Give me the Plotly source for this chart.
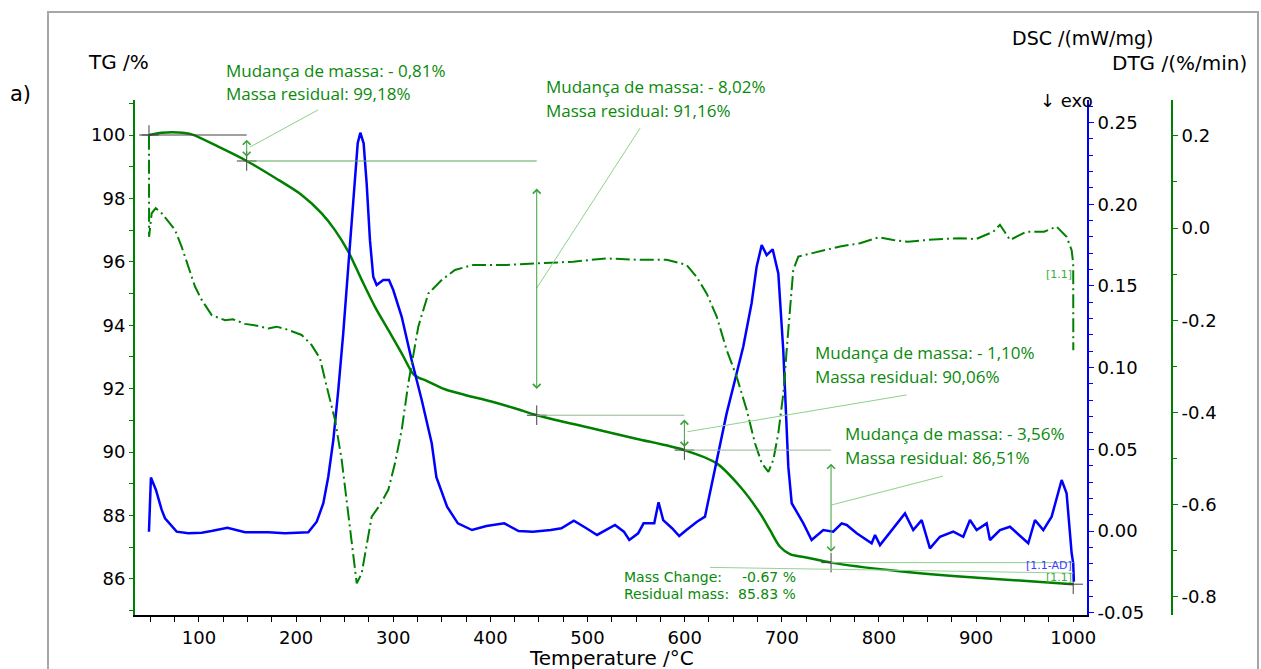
import plotly.graph_objects as go

# ---------------- TG (mass, %) ----------------
T_tg = [48.5, 61.6, 78.7, 92.5, 119.9, 149.1, 178.2, 205.7, 226.3, 240.0,
        253.7, 267.5, 281.2, 294.9, 308.7, 318.9, 322.0, 327.0, 332.7, 353.2,
        373.8, 400.0, 425.0, 447.7, 500.0, 550.0, 599.7, 633.0, 657.0, 677.5,
        687.8, 698.1, 708.4, 729.0, 750.7, 814.7, 883.4, 952.0, 1000.0]
TG = [100.0, 100.07, 100.08, 100.02, 99.63, 99.18, 98.65, 98.11, 97.53, 97.0,
      96.32, 95.43, 94.58, 93.85, 93.11, 92.53, 92.42, 92.33, 92.27, 91.98,
      91.8, 91.6, 91.38, 91.16, 90.78, 90.42, 90.06, 89.64, 88.91, 88.07,
      87.54, 87.01, 86.78, 86.65, 86.51, 86.26, 86.07, 85.93, 85.83]

# ---------------- DSC (mW/mg) ----------------
T_dsc = [48.5, 50.5, 55.7, 61.6, 65.0, 77.0, 89.0, 102.8, 112.8, 129.3,
         147.4, 171.3, 188.5, 212.5, 221.2, 228.0, 233.1, 238.3, 243.4, 248.5,
         253.7, 258.8, 263.4, 266.1, 269.5, 272.6, 276.0, 279.4, 282.9, 289.7,
         295.6, 300.0, 308.7, 318.9, 329.3, 339.6, 344.4, 355.4, 366.5, 381.1,
         395.9, 414.3, 429.0, 443.7, 462.1, 473.1, 485.9, 498.8, 509.8, 528.3,
         537.4, 543.0, 552.1, 557.7, 568.7, 573.1, 577.9, 587.0, 594.4, 601.8,
         612.7, 620.9, 629.4, 643.2, 651.8, 660.3, 668.9, 674.1, 679.3, 684.4,
         690.6, 696.4, 701.5, 706.7, 710.2, 718.7, 722.2, 730.7, 742.7, 753.0,
         761.6, 766.8, 777.1, 792.5, 796.0, 801.1, 813.1, 818.3, 826.8, 835.3,
         844.0, 852.5, 862.8, 876.5, 886.8, 893.7, 900.6, 910.9, 914.3, 924.6,
         934.9, 953.7, 960.6, 969.2, 977.8, 988.1, 993.2, 998.4, 1000.0, 1000.7]
DSC = [-0.0004, 0.0327, 0.0251, 0.0129, 0.0078, -0.0004, -0.0014, -0.001, 0.0, 0.002,
       -0.0008, -0.0008, -0.0014, -0.0008, 0.0057, 0.017, 0.0332, 0.0557, 0.0863, 0.121,
       0.1618, 0.2026, 0.2373, 0.2438, 0.2373, 0.2128, 0.178, 0.1556, 0.1506, 0.1536,
       0.1536, 0.1475, 0.1311, 0.1047, 0.0802, 0.0537, 0.0330, 0.0149, 0.0047, 0.0006,
       0.0031, 0.0047, 0.0, -0.0004, 0.0006, 0.0017, 0.0063, 0.0017, -0.0024, 0.0037,
       -0.0004, -0.0055, -0.0014, 0.0047, 0.0047, 0.0176, 0.0067, 0.0017, -0.0031, 0.0006,
       0.0057, 0.0088, 0.0332, 0.072, 0.0924, 0.1128, 0.1394, 0.1618, 0.175, 0.1689,
       0.1724, 0.1577, 0.1108, 0.0394, 0.017, 0.0088, 0.0047, -0.0055, 0.0006, -0.0004,
       0.0047, 0.0037, -0.0014, -0.0075, -0.0024, -0.0086, 0.0006, 0.0047, 0.0108, 0.0006,
       0.0067, -0.0106, -0.0035, -0.0004, -0.0035, 0.0067, 0.0006, 0.0047, -0.0055, 0.0006,
       0.0026, -0.0075, 0.0067, 0.0006, 0.0088, 0.0312, 0.0231, -0.0136, -0.0198, -0.031]

# ---------------- DTG (%/min) ----------------
T_dtg = [48.5, 48.6, 51.3, 55.4, 61.6, 68.4, 75.3, 82.2, 89.0, 95.9,
         102.8, 113.1, 126.8, 135.0, 147.4, 160.0, 171.3, 180.0, 191.9, 205.7,
         216.0, 224.6, 231.5, 240.0, 246.9, 253.7, 258.9, 262.4, 267.5, 272.6,
         277.8, 286.3, 294.9, 301.8, 308.7, 315.5, 325.8, 336.1, 349.8, 363.5,
         382.4, 416.7, 451.0, 485.3, 519.7, 554.0, 581.5, 602.0, 612.3, 622.6,
         633.0, 643.3, 653.6, 663.9, 672.4, 679.3, 686.2, 691.3, 696.4, 701.6,
         705.0, 708.4, 711.8, 717.0, 746.2, 760.0, 780.5, 800.0, 814.8, 830.0,
         849.1, 883.4, 900.0, 917.7, 924.6, 934.9, 952.0, 970.0, 982.9, 993.2,
         998.4, 1000.0, 1000.1]
DTG = [0.20, -0.019, 0.032, 0.043, 0.032, 0.014, -0.004, -0.041, -0.084, -0.127,
       -0.156, -0.189, -0.200, -0.198, -0.208, -0.212, -0.218, -0.214, -0.221, -0.232,
       -0.254, -0.283, -0.344, -0.416, -0.503, -0.626, -0.720, -0.771, -0.749, -0.684,
       -0.626, -0.601, -0.568, -0.510, -0.438, -0.337, -0.214, -0.142, -0.113, -0.091,
       -0.080, -0.080, -0.077, -0.073, -0.066, -0.069, -0.069, -0.080, -0.106, -0.142,
       -0.192, -0.265, -0.323, -0.395, -0.467, -0.510, -0.529, -0.503, -0.445, -0.359,
       -0.265, -0.171, -0.091, -0.062, -0.048, -0.040, -0.033, -0.020, -0.026, -0.030,
       -0.026, -0.022, -0.024, -0.008, 0.007, -0.026, -0.008, -0.008, 0.003, -0.019,
       -0.048, -0.077, -0.265]

assert len(T_tg) == len(TG) and len(T_dsc) == len(DSC) and len(T_dtg) == len(DTG)

# ---------------- mass-loss evaluation ----------------
step_T = [48.5, 149.1, 447.7, 599.7, 750.7, 1000.0]
step_mass = [100.0, 99.18, 91.16, 90.06, 86.51, 85.83]
mass_change = [-0.81, -8.02, -1.10, -3.56, -0.67]
# extent of the double arrows drawn between consecutive steps
arrow_top = [99.90, 98.36, 91.07, 89.68]
arrow_bottom = [99.31, 91.99, 90.16, 86.85]

# axis ticks
x_ticks = [100, 200, 300, 400, 500, 600, 700, 800, 900, 1000]
tg_ticks = [86, 88, 90, 92, 94, 96, 98, 100]
dsc_ticks = [-0.05, 0.0, 0.05, 0.10, 0.15, 0.20, 0.25]
dtg_ticks = [-0.8, -0.6, -0.4, -0.2, 0.0, 0.2]

GREEN = "rgb(0,128,0)"
TXT_GREEN = "rgb(10,138,10)"
BLUE = "rgb(0,0,255)"
AXFONT = dict(family="DejaVu Sans", size=18, color="black")
TITLEFONT = dict(family="DejaVu Sans", size=20, color="black")

W, H = 1261, 669
L, R, T, B = 135, 1172, 100, 615   # paper box in page pixels
X_RIGHT = 1087                      # right end of the temperature axis


def xp(px):
    return (px - L) / (R - L)


def yp(py):
    return (B - py) / (B - T)


def fmt(v, nd):
    return f"{v:.{nd}f}"


def pt(v):
    return fmt(v, 2).replace(".", ",")


fig = go.Figure()

fig.add_trace(go.Scatter(x=T_tg, y=TG, mode="lines", yaxis="y",
                         line=dict(color=GREEN, width=2.5, shape="spline", smoothing=0.8),
                         hoverinfo="skip"))
fig.add_trace(go.Scatter(x=T_dsc, y=DSC, mode="lines", yaxis="y2",
                         line=dict(color=BLUE, width=2.5), hoverinfo="skip"))
fig.add_trace(go.Scatter(x=T_dtg, y=DTG, mode="lines", yaxis="y3",
                         line=dict(color=GREEN, width=2, dash="14px,4px,2px,4px"),
                         hoverinfo="skip"))
fig.add_trace(go.Scatter(x=step_T, y=step_mass, mode="markers", yaxis="y",
                         marker=dict(symbol="cross-thin", size=14,
                                     line=dict(color="#404040", width=1)),
                         hoverinfo="skip"))

shapes = []
# frame around the figure
shapes.append(dict(type="rect", xref="paper", yref="paper",
                   x0=xp(48), x1=xp(1258), y0=yp(690), y1=yp(12),
                   line=dict(color="rgb(166,166,166)", width=2)))

# horizontal reference levels of each step
level_colors = ["#404040", "rgb(90,170,90)", "rgb(150,180,150)",
                "rgb(150,180,150)", "rgb(140,205,140)"]
shapes.append(dict(type="line", xref="x", yref="y", x0=41, x1=step_T[1],
                   y0=step_mass[0], y1=step_mass[0],
                   line=dict(color=level_colors[0], width=1)))
for i in range(1, 5):
    shapes.append(dict(type="line", xref="x", yref="y",
                       x0=step_T[i], x1=step_T[i + 1],
                       y0=step_mass[i], y1=step_mass[i],
                       line=dict(color=level_colors[i], width=1)))
# last-step baseline
shapes.append(dict(type="line", xref="x", yref="y", x0=626, x1=1000,
                   y0=86.36, y1=86.18, line=dict(color="rgb(150,210,150)", width=1)))

# leader lines from the arrows to the labels
leaders = [((152.5, 99.62), (222.5, 100.79)),
           ((447.7, 95.17), (554.0, 100.21)),
           ((602.9, 90.64), (828.5, 91.80)),
           ((751.3, 88.33), (865.9, 89.24))]
for (x0, y0), (x1, y1) in leaders:
    shapes.append(dict(type="line", xref="x", yref="y", x0=x0, y0=y0, x1=x1, y1=y1,
                       line=dict(color="rgb(140,210,140)", width=1)))

annotations = []
# double arrows between consecutive evaluation steps
for i in range(4):
    annotations.append(dict(x=step_T[i + 1], y=arrow_bottom[i],
                            ax=step_T[i + 1], ay=arrow_top[i],
                            xref="x", yref="y", axref="x", ayref="y",
                            text="", showarrow=True, arrowhead=4, startarrowhead=4,
                            arrowside="end+start", arrowsize=1.5, startarrowsize=1.5,
                            arrowwidth=1, arrowcolor="rgb(60,160,60)"))

label_pos = [(224, 70), (544, 87), (813, 352), (843, 433)]
for i, (lx, ly) in enumerate(label_pos):
    annotations.append(dict(xref="paper", yref="paper", x=xp(lx), y=yp(ly),
                            xanchor="left", yanchor="middle", showarrow=False,
                            text=f"Mudança de massa: - {pt(abs(mass_change[i]))}%",
                            font=dict(family="Open Sans", size=17, color=TXT_GREEN)))
    annotations.append(dict(xref="paper", yref="paper", x=xp(lx), y=yp(ly + 24),
                            xanchor="left", yanchor="middle", showarrow=False,
                            text=f"Massa residual: {pt(step_mass[i + 1])}%",
                            font=dict(family="Open Sans", size=17, color=TXT_GREEN)))

small = dict(family="DejaVu Sans", size=14, color=TXT_GREEN)
annotations += [
    dict(xref="paper", yref="paper", x=xp(622), y=yp(577), xanchor="left", yanchor="middle",
         showarrow=False, text="Mass Change:", font=small),
    dict(xref="paper", yref="paper", x=xp(798), y=yp(577), xanchor="right", yanchor="middle",
         showarrow=False, text=f"{fmt(mass_change[4], 2)} %", font=small),
    dict(xref="paper", yref="paper", x=xp(622), y=yp(594), xanchor="left", yanchor="middle",
         showarrow=False, text="Residual mass:", font=small),
    dict(xref="paper", yref="paper", x=xp(798), y=yp(594), xanchor="right", yanchor="middle",
         showarrow=False, text=f"{fmt(step_mass[5], 2)} %", font=small),
    dict(xref="paper", yref="paper", x=xp(1074), y=yp(274), xanchor="right", yanchor="middle",
         showarrow=False, text="[1.1]",
         font=dict(family="DejaVu Sans", size=11, color="rgb(60,170,60)")),
    dict(xref="paper", yref="paper", x=xp(1074), y=yp(565), xanchor="right", yanchor="middle",
         showarrow=False, text="[1.1-AD]",
         font=dict(family="DejaVu Sans", size=11, color="rgb(60,60,255)")),
    dict(xref="paper", yref="paper", x=xp(1074), y=yp(577), xanchor="right", yanchor="middle",
         showarrow=False, text="[1.1]",
         font=dict(family="DejaVu Sans", size=11, color="rgb(60,170,60)")),
    # axis titles and panel letter
    dict(xref="paper", yref="paper", x=xp(86), y=yp(62), xanchor="left", yanchor="middle",
         showarrow=False, text="TG /%", font=TITLEFONT),
    dict(xref="paper", yref="paper", x=xp(1010), y=yp(38), xanchor="left", yanchor="middle",
         showarrow=False, text="DSC /(mW/mg)", font=dict(family="DejaVu Sans", size=19, color="black")),
    dict(xref="paper", yref="paper", x=xp(1110), y=yp(63), xanchor="left", yanchor="middle",
         showarrow=False, text="DTG /(%/min)", font=TITLEFONT),
    dict(xref="paper", yref="paper", x=xp(1038), y=yp(100), xanchor="left", yanchor="middle",
         showarrow=False, text="↓ exo", font=AXFONT),
    dict(xref="paper", yref="paper", x=xp(8), y=yp(94), xanchor="left", yanchor="middle",
         showarrow=False, text="a)", font=dict(family="DejaVu Sans", size=21, color="black")),
    dict(xref="paper", yref="paper", x=xp(611), y=yp(658), xanchor="center", yanchor="middle",
         showarrow=False, text="Temperature /°C", font=TITLEFONT),
]

fig.update_layout(
    template="none",
    width=W, height=H, autosize=False,
    margin=dict(l=L, r=W - R, t=T, b=H - B, pad=0),
    paper_bgcolor="white", plot_bgcolor="white",
    showlegend=False,
    font=dict(family="DejaVu Sans", size=18, color="black"),
    shapes=shapes, annotations=annotations,
    xaxis=dict(domain=[0, xp(X_RIGHT)], range=[34.12, 1014.2], automargin=False,
               showline=True, linecolor="black", linewidth=2, mirror=False,
               showgrid=False, zeroline=False,
               tickmode="array", tickvals=x_ticks, ticktext=[str(v) for v in x_ticks],
               ticks="outside", ticklen=5, tickwidth=1, tickcolor="black", tickfont=AXFONT,
               minor=dict(tickmode="linear", tick0=0, dtick=25, ticks="outside",
                          ticklen=5, tickwidth=1, tickcolor="black")),
    yaxis=dict(range=[84.858, 101.104], automargin=False,
               showline=True, linecolor=GREEN, linewidth=2,
               showgrid=False, zeroline=False,
               tickmode="array", tickvals=tg_ticks, ticktext=[str(v) for v in tg_ticks],
               ticks="outside", ticklen=4, tickwidth=1, tickcolor=GREEN, tickfont=AXFONT,
               minor=dict(tickmode="linear", tick0=0, dtick=1, ticks="outside",
                          ticklen=4, tickwidth=1, tickcolor=GREEN)),
    yaxis2=dict(overlaying="y", anchor="x", side="right", range=[-0.0514, 0.2638],
                automargin=False, showline=True, linecolor=BLUE, linewidth=2,
                showgrid=False, zeroline=False,
                tickmode="array", tickvals=dsc_ticks,
                ticktext=[fmt(v, 2).replace("-0.00", "0.00") for v in dsc_ticks],
                ticks="outside", ticklen=5, tickwidth=1, tickcolor=BLUE, tickfont=AXFONT,
                minor=dict(tickmode="linear", tick0=0, dtick=0.01, ticks="outside",
                           ticklen=4, tickwidth=1, tickcolor=BLUE)),
    yaxis3=dict(overlaying="y", anchor="free", position=1.0, side="right",
                range=[-0.8395, 0.2777], automargin=False,
                showline=True, linecolor=GREEN, linewidth=2,
                showgrid=False, zeroline=False,
                tickmode="array", tickvals=dtg_ticks,
                ticktext=["0.0" if abs(v) < 1e-9 else fmt(v, 1) for v in dtg_ticks],
                ticks="outside", ticklen=5, tickwidth=1, tickcolor=GREEN, tickfont=AXFONT,
                minor=dict(tickmode="linear", tick0=0, dtick=0.1, ticks="outside",
                           ticklen=4, tickwidth=1, tickcolor=GREEN)),
)

fig.write_html("out.html", config={"displayModeBar": False})
